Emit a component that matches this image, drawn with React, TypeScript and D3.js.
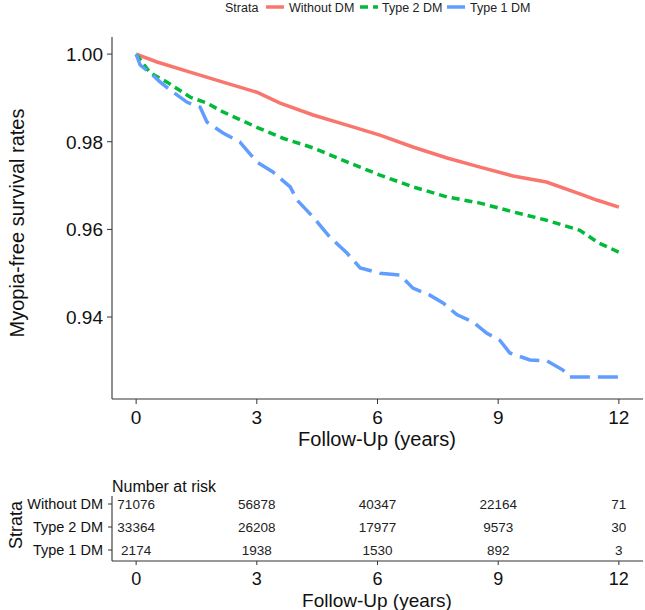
import React from 'react';
import * as d3 from 'd3';

// survival curves: [years, survival]
const withoutDM: [number, number][] = [
  [0, 1.0], [0.52, 0.9982], [1.34, 0.9959], [2.16, 0.9936], [3.0, 0.9913], [3.58, 0.9888],
  [4.4, 0.9861], [5.24, 0.9838], [6.06, 0.9815], [6.88, 0.9788], [7.73, 0.9763], [8.55, 0.9742],
  [9.37, 0.9722], [10.2, 0.9708], [11.03, 0.9681], [11.45, 0.9667], [12, 0.9651],
];
const type2DM: [number, number][] = [
  [0, 1.0], [0.35, 0.9957], [0.77, 0.9936], [1.34, 0.9902], [1.76, 0.9888], [2.16, 0.9868],
  [3.0, 0.9833], [3.65, 0.9808], [4.4, 0.9786], [5.24, 0.9754], [6.06, 0.9724], [6.88, 0.9697],
  [7.73, 0.9674], [8.55, 0.966], [9.37, 0.964], [10.2, 0.9621], [11.03, 0.9598], [11.5, 0.9569],
  [12, 0.9548],
];
const type1DM: [number, number][] = [
  [0, 1.0], [0.1, 0.9975], [0.35, 0.9957], [0.6, 0.9936], [0.92, 0.9913], [1.27, 0.989],
  [1.59, 0.9879], [1.76, 0.9845], [2.16, 0.982], [2.58, 0.9799], [3.0, 0.9754], [3.4, 0.9731],
  [3.83, 0.9697], [4.0, 0.9667], [4.4, 0.9628], [4.82, 0.9582], [5.24, 0.9546], [5.57, 0.9512],
  [6.06, 0.95], [6.56, 0.9496], [6.88, 0.9466], [7.3, 0.945], [7.63, 0.9432], [7.98, 0.9405],
  [8.37, 0.9389], [8.72, 0.9363], [9.04, 0.9347], [9.29, 0.9318], [9.79, 0.9302], [10.21, 0.93],
  [10.61, 0.9279], [10.78, 0.9263], [12, 0.9263],
];

const strata = ['Without DM', 'Type 2 DM', 'Type 1 DM'];
const colors = ['#F8766D', '#00BA38', '#619CFF'];
const dashes = ['none', '8,5', '20,8'];
const xTicks = [0, 3, 6, 9, 12];
const yTicks = [0.94, 0.96, 0.98, 1.0];
const atRisk = [
  [71076, 56878, 40347, 22164, 71],
  [33364, 26208, 17977, 9573, 30],
  [2174, 1938, 1530, 892, 3],
];

const font = 'Arial, "Liberation Sans", sans-serif';

export default function App() {
  const W = 645, H = 610;
  const x = d3.scaleLinear().domain([-0.6, 12.6]).range([112, 643]);
  const y = d3.scaleLinear().domain([0.9213, 1.0039]).range([399, 37]);
  const line = d3.line<[number, number]>()
    .x(d => x(d[0]))
    .y(d => y(d[1]));
  const series = [withoutDM, type2DM, type1DM];

  // risk table rows
  const row = d3.scalePoint<string>().domain(strata).range([504, 550]);

  // legend layout
  const legendItems = [
    { key: 266, text: 289 },
    { key: 360, text: 382 },
    { key: 447, text: 470 },
  ];

  return (
    <svg width={W} height={H} style={{ position: 'absolute', left: 0, top: 0, background: '#fff' }}
      fontFamily={font}>
      {/* legend */}
      <text x={225} y={7} dy="0.36em" fontSize={12.5} fill="#222">Strata</text>
      {strata.map((s, i) => (
        <g key={s}>
          <line x1={legendItems[i].key} x2={legendItems[i].key + 18} y1={7} y2={7}
            stroke={colors[i]} strokeWidth={3.5} strokeDasharray={dashes[i]} />
          <text x={legendItems[i].text} y={7} dy="0.36em" fontSize={12.5} fill="#222">{s}</text>
        </g>
      ))}

      {/* curves */}
      {series.map((d, i) => (
        <path key={i} d={line(d) || ''} fill="none" stroke={colors[i]} strokeWidth={3.5}
          strokeDasharray={dashes[i]} />
      ))}

      {/* main axes */}
      <line x1={112} x2={112} y1={37} y2={399} stroke="#333" strokeWidth={1.1} />
      <line x1={112} x2={643} y1={399} y2={399} stroke="#333" strokeWidth={1.1} />
      {yTicks.map(t => (
        <g key={t}>
          <line x1={107} x2={112} y1={y(t)} y2={y(t)} stroke="#333" />
          <text x={103} y={y(t)} dy="0.36em" textAnchor="end" fontSize={19} fill="#111">{t.toFixed(2)}</text>
        </g>
      ))}
      {xTicks.map(t => (
        <g key={t}>
          <line x1={x(t)} x2={x(t)} y1={399} y2={404} stroke="#333" />
          <text x={x(t)} y={417} dy="0.36em" textAnchor="middle" fontSize={19} fill="#111">{t}</text>
        </g>
      ))}
      <text x={377} y={439} dy="0.36em" textAnchor="middle" fontSize={20} fill="#111">Follow-Up (years)</text>
      <text transform={`translate(17,${223}) rotate(-90)`} dy="0.36em" textAnchor="middle" fontSize={20}
        fill="#111">Myopia-free survival rates</text>

      {/* risk table */}
      <text x={112} y={486} dy="0.36em" fontSize={16} fill="#111">Number at risk</text>
      <line x1={112} x2={112} y1={496} y2={561} stroke="#333" strokeWidth={1.1} />
      <line x1={112} x2={643} y1={561} y2={561} stroke="#333" strokeWidth={1.1} />
      {strata.map((s, i) => (
        <g key={s}>
          <line x1={108} x2={112} y1={row(s)!} y2={row(s)!} stroke="#333" />
          <text x={103} y={row(s)!} dy="0.36em" textAnchor="end" fontSize={14.5} fill="#111">{s}</text>
          {xTicks.map((t, j) => (
            <text key={t} x={x(t)} y={row(s)!} dy="0.36em" textAnchor="middle" fontSize={13.5} fill="#222">
              {atRisk[i][j]}
            </text>
          ))}
        </g>
      ))}
      {xTicks.map(t => (
        <g key={t}>
          <line x1={x(t)} x2={x(t)} y1={561} y2={565} stroke="#333" />
          <text x={x(t)} y={579} dy="0.36em" textAnchor="middle" fontSize={18} fill="#111">{t}</text>
        </g>
      ))}
      <text x={377} y={600} dy="0.36em" textAnchor="middle" fontSize={19} fill="#111">Follow-Up (years)</text>
      <text transform={`translate(16,${525}) rotate(-90)`} dy="0.36em" textAnchor="middle" fontSize={18}
        fill="#111">Strata</text>
    </svg>
  );
}
